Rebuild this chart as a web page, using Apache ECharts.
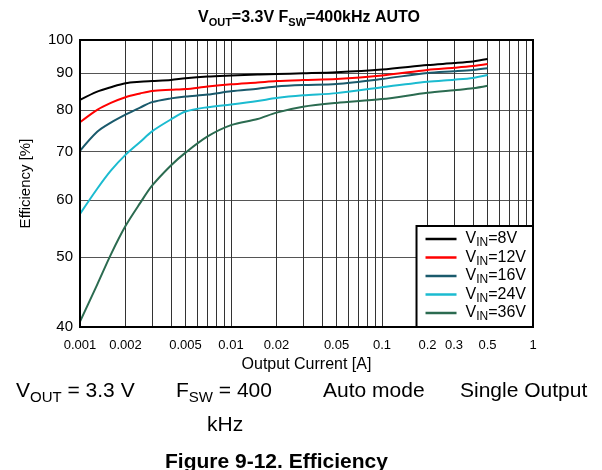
<!DOCTYPE html>
<html>
<head>
<meta charset="utf-8">
<script src="https://cdn.jsdelivr.net/npm/echarts@6/dist/echarts.min.js"></script>
<style>html,body{margin:0;padding:0;background:#fff}#c{width:602px;height:470px}</style>
</head>
<body>
<div id="c"></div>
<script>
// Output current [A]
const current = [0.001, 0.0013, 0.0016, 0.002, 0.0025, 0.003, 0.004, 0.005, 0.007, 0.01, 0.015, 0.02, 0.03, 0.05, 0.1, 0.2, 0.3, 0.4, 0.5];
// Efficiency [%]
const vin8  = [82.6, 84.8, 86.0, 87.1, 87.5, 87.7, 88.0, 88.5, 89.0, 89.3, 89.6, 89.7, 89.9, 90.2, 91.0, 92.3, 92.9, 93.4, 94.1];
const vin12 = [76.9, 80.0, 81.8, 83.3, 84.3, 85.0, 85.3, 85.5, 86.2, 86.8, 87.3, 87.7, 88.0, 88.3, 89.3, 90.9, 91.5, 92.0, 92.6];
const vin16 = [70.2, 74.6, 76.8, 78.8, 80.6, 82.0, 83.0, 83.5, 84.0, 84.9, 85.6, 86.2, 86.6, 86.9, 88.3, 90.0, 90.5, 90.9, 91.4];
const vin24 = [57.4, 62.2, 65.9, 69.3, 72.2, 74.7, 77.6, 79.6, 80.7, 81.4, 82.3, 83.1, 83.8, 84.4, 86.0, 87.5, 88.1, 88.6, 89.4];
const vin36 = [40.7, 45.8, 50.4, 55.2, 59.4, 62.8, 67.0, 69.8, 73.5, 76.2, 77.7, 79.3, 80.8, 81.8, 82.8, 84.5, 85.2, 85.7, 86.4];

const seriesNames = ['8V', '12V', '16V', '24V', '36V'];
const seriesColors = ['#000000', '#ff0000', '#1a5a6c', '#1bbbd0', '#2b6b50'];
const seriesValues = [vin8, vin12, vin16, vin24, vin36];

const xLabelValues = [0.001, 0.002, 0.005, 0.01, 0.02, 0.05, 0.1, 0.2, 0.3, 0.5, 1];
const xGridValues = [0.001,0.002,0.003,0.004,0.005,0.006,0.007,0.008,0.009,
                     0.01,0.02,0.03,0.04,0.05,0.06,0.07,0.08,0.09,
                     0.1,0.2,0.3,0.4,0.5,0.6,0.7,0.8,0.9,1];
const yLabelValues = [40, 50, 60, 70, 80, 90, 100];

const chart = echarts.init(document.getElementById('c'), null, {renderer: 'canvas'});
const FONT = 'Liberation Sans, Arial, sans-serif';

const series = seriesNames.map((n, i) => ({
  name: n,
  type: 'line',
  smooth: 0.3,
  showSymbol: false,
  lineStyle: {color: seriesColors[i], width: 2},
  itemStyle: {color: seriesColors[i]},
  data: current.map((c, k) => [c, seriesValues[i][k]]),
  z: 5
}));

const rowRich = {
  n: {fontFamily: FONT, fontSize: 21, fill: '#000', verticalAlign: 'bottom', lineHeight: 22},
  s: {fontFamily: FONT, fontSize: 15, fill: '#000', verticalAlign: 'bottom', lineHeight: 15, padding: [0,0,-3,0]}
};

chart.setOption({
  animation: false,
  backgroundColor: '#fff',
  title: {
    text: '{b|V}{s|OUT}{b|=3.3V F}{s|SW}{b|=400kHz AUTO}',
    left: 304, top: 3, textAlign: 'center',
    textStyle: {
      rich: {
        b: {fontFamily: FONT, fontWeight: 'bold', fontSize: 16, color: '#000', verticalAlign: 'bottom', lineHeight: 18},
        s: {fontFamily: FONT, fontWeight: 'bold', fontSize: 11, color: '#000', verticalAlign: 'bottom', lineHeight: 12, padding: [0,0,-2,0]}
      }
    }
  },
  grid: {left: 80, right: 69, top: 40, bottom: 143, show: true, borderColor: '#000', borderWidth: 2, backgroundColor: 'transparent', z: 10},
  legend: {
    orient: 'vertical',
    right: 69, bottom: 143,
    backgroundColor: '#fff',
    borderColor: '#000', borderWidth: 2,
    padding: [5, 7, 4, 9],
    itemWidth: 31, itemHeight: 2.5, itemGap: 0.5,
    icon: 'rect',
    z: 20,
    data: seriesNames,
    formatter: n => '{n|V}{s|IN}{n|=' + n + '}',
    textStyle: {
      padding: [0, 0, 0, 4],
      rich: {
        n: {fontFamily: FONT, fontSize: 16, color: '#000', verticalAlign: 'bottom', lineHeight: 16},
        s: {fontFamily: FONT, fontSize: 12, color: '#000', verticalAlign: 'bottom', lineHeight: 11, padding: [0,0,-2,0]}
      }
    }
  },
  xAxis: {
    type: 'log', logBase: 10, min: 0.001, max: 1,
    name: 'Output Current [A]', nameLocation: 'middle', nameGap: 27,
    nameTextStyle: {fontFamily: FONT, fontSize: 16, color: '#000'},
    axisLine: {show: true, lineStyle: {color: '#000', width: 2}},
    axisTick: {show: false, customValues: xGridValues},
    axisLabel: {
      customValues: xLabelValues, fontFamily: FONT, fontSize: 13, color: '#000', margin: 12,
      formatter: v => String(+(+v).toPrecision(3))
    },
    splitLine: {show: true, lineStyle: {color: '#333', width: 1}},
    minorSplitLine: {show: false}
  },
  yAxis: {
    type: 'log', logBase: 10, min: 40, max: 100,
    name: 'Efficiency [%]', nameLocation: 'middle', nameGap: 47, nameRotate: 90,
    nameTextStyle: {fontFamily: FONT, fontSize: 15, color: '#000'},
    axisLine: {show: true, lineStyle: {color: '#000', width: 2}},
    axisTick: {show: false, customValues: yLabelValues},
    axisLabel: {
      customValues: yLabelValues, fontFamily: FONT, fontSize: 15, color: '#000', margin: 7,
      formatter: v => String(Math.round(v))
    },
    splitLine: {show: true, lineStyle: {color: '#555', width: 1}}
  },
  graphic: [
    {type: 'text', left: 16, top: 381, style: {text: '{n|V}{s|OUT}{n| = 3.3 V}', rich: rowRich}},
    {type: 'text', left: 176, top: 381, style: {text: '{n|F}{s|SW}{n| = 400}', rich: rowRich}},
    {type: 'text', left: 207, top: 415, style: {text: 'kHz', fontFamily: FONT, fontSize: 21, fill: '#000'}},
    {type: 'text', left: 323, top: 381, style: {text: '{n|Auto mode}', rich: rowRich}},
    {type: 'text', left: 460, top: 381, style: {text: '{n|Single Output}', rich: rowRich}},
    {type: 'text', left: 165, top: 452, style: {text: 'Figure 9-12. Efficiency', fontFamily: FONT, fontSize: 21, fontWeight: 'bold', fill: '#000'}}
  ],
  series: series
});
</script>
</body>
</html>
